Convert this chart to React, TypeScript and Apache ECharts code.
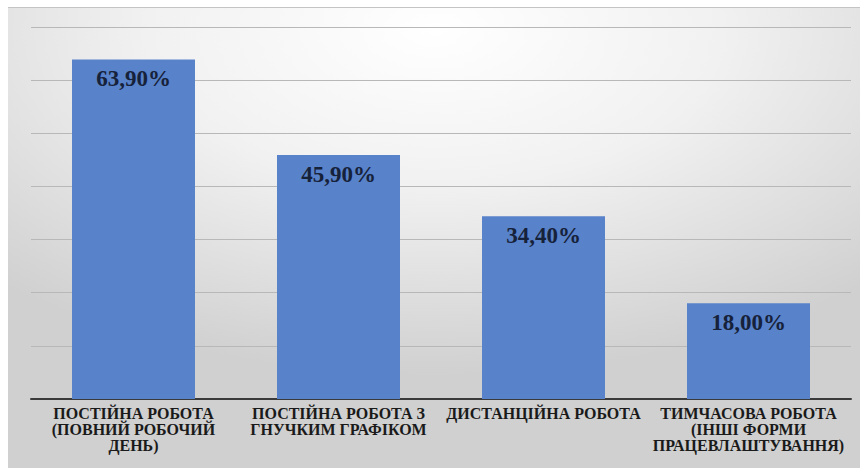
import React, { useEffect, useRef } from "react";
import * as echarts from "echarts";

const categories: string[] = [
  "ПОСТІЙНА РОБОТА\n(ПОВНИЙ РОБОЧИЙ\nДЕНЬ)",
  "ПОСТІЙНА РОБОТА З\nГНУЧКИМ ГРАФІКОМ",
  "ДИСТАНЦІЙНА РОБОТА",
  "ТИМЧАСОВА РОБОТА\n(ІНШІ ФОРМИ\nПРАЦЕВЛАШТУВАННЯ)",
];
const values: number[] = [63.9, 45.9, 34.4, 18.0];
const yMin = 0;
const yMax = 70;
const yInterval = 10;

export default function App() {
  const ref = useRef<HTMLDivElement>(null);
  useEffect(() => {
    if (!ref.current) return;
    const chart = echarts.init(ref.current, null, { renderer: "svg" });
    chart.setOption({
      animation: false,
      graphic: [
        {
          type: "rect",
          z: -10,
          silent: true,
          shape: { x: 8, y: 7, width: 852, height: 461 },
          style: {
            fill: new echarts.graphic.RadialGradient(0.5, 0.05, 0.75, [
              { offset: 0, color: "#ffffff" },
              { offset: 0.45, color: "#f1f1f1" },
              { offset: 1, color: "#d0d0d0" },
            ]),
          },
        },
        {
          type: "line",
          z: -9,
          silent: true,
          shape: { x1: 8, y1: 7.5, x2: 860, y2: 7.5 },
          style: { stroke: "#c4c4c4", lineWidth: 1 },
        },
      ],
      grid: { left: 31, right: 9, top: 27, bottom: 69, containLabel: false },
      xAxis: {
        type: "category",
        data: categories,
        axisLine: { show: true, lineStyle: { color: "#3a3a3a", width: 2 } },
        axisTick: { show: false },
        axisLabel: {
          interval: 0,
          margin: 6,
          fontFamily: "Liberation Serif",
          fontWeight: "bold",
          fontSize: 16,
          lineHeight: 16,
          color: "#1a1a1a",
          align: "center",
        },
      },
      yAxis: {
        type: "value",
        min: yMin,
        max: yMax,
        interval: yInterval,
        axisLine: { show: false },
        axisTick: { show: false },
        axisLabel: { show: false },
        splitLine: { show: true, lineStyle: { color: "#b8b8b8", width: 1 } },
      },
      series: [
        {
          type: "bar",
          data: values,
          barWidth: "60%",
          itemStyle: { color: "#5882c9" },
          label: {
            show: true,
            position: "insideTop",
            distance: 8,
            formatter: (p: any) => p.value.toFixed(2).replace(".", ",") + "%",
            fontFamily: "Liberation Serif",
            fontWeight: "bold",
            fontSize: 23,
            color: "#16213a",
          },
        },
      ],
    });
    return () => chart.dispose();
  }, []);
  return (
    <div
      ref={ref}
      style={{ position: "absolute", left: 0, top: 0, width: 860, height: 468 }}
    />
  );
}
